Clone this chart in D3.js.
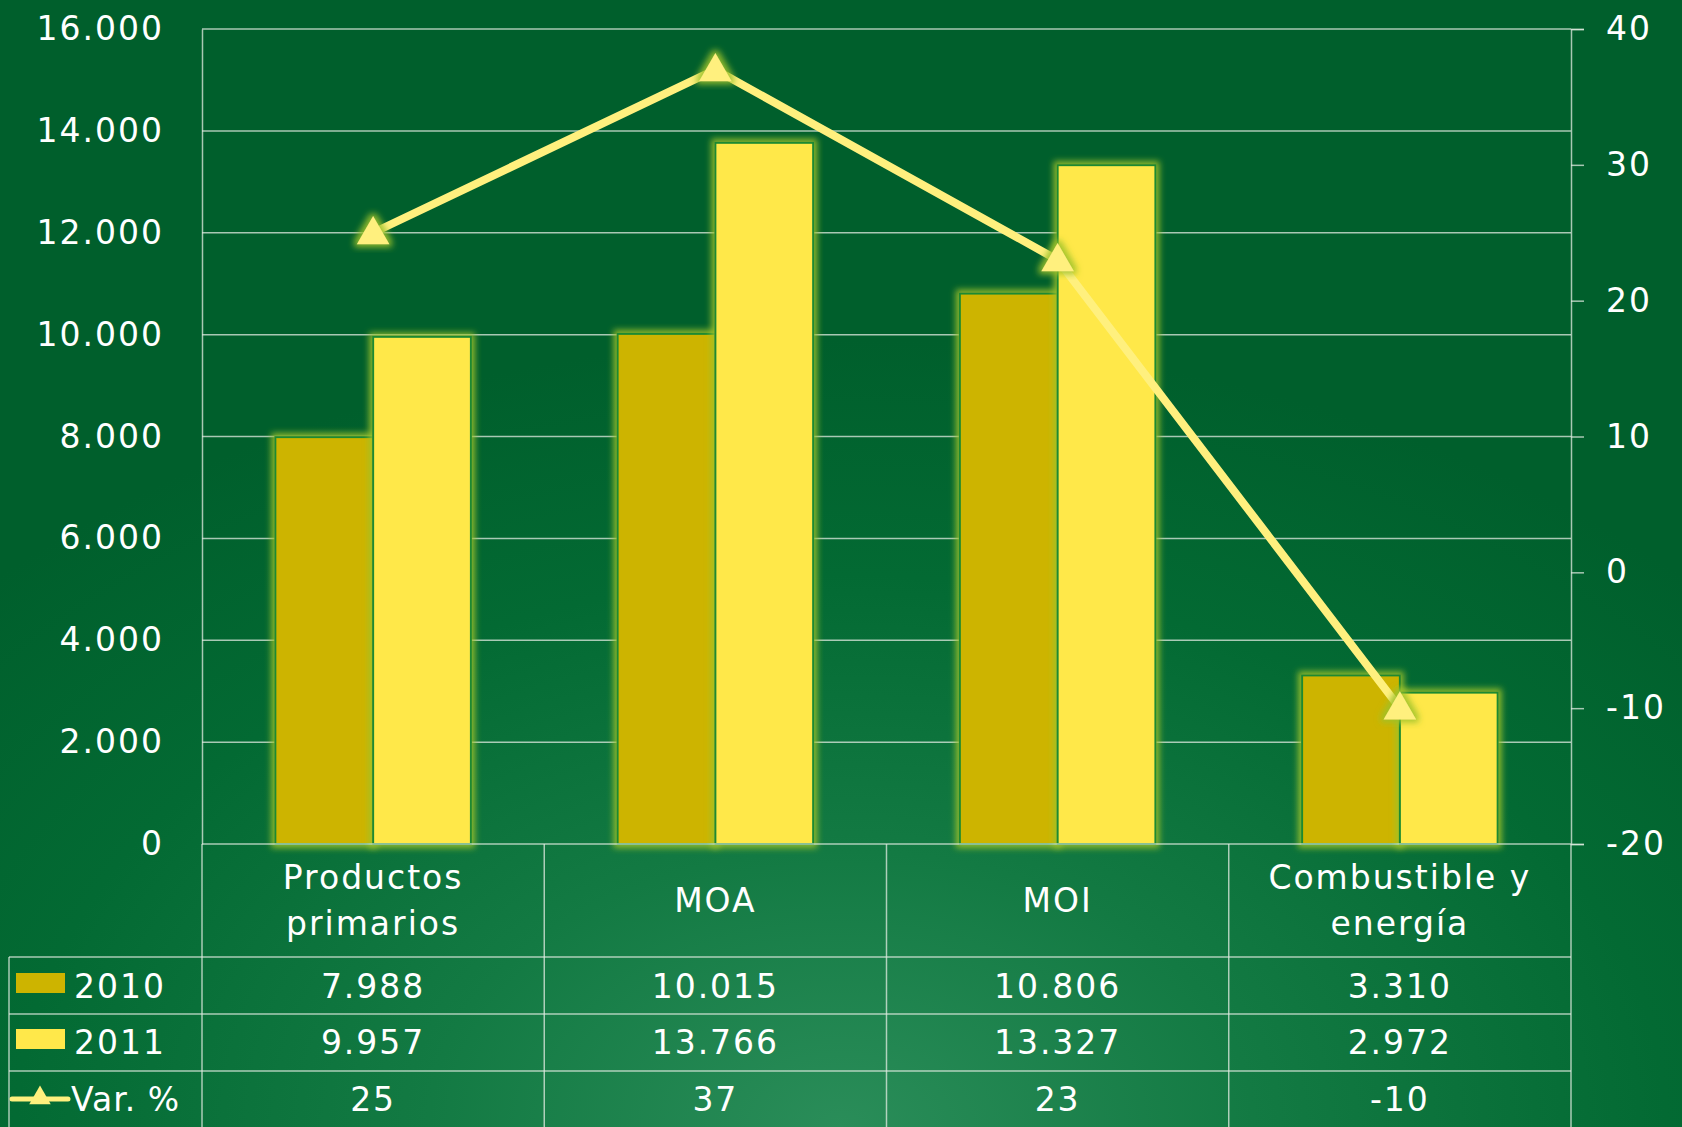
<!DOCTYPE html>
<html>
<head>
<meta charset="utf-8">
<script src="https://cdn.jsdelivr.net/npm/d3@7"></script>
<style>
  html, body { margin: 0; padding: 0; background: #005f2c; }
  svg { display: block; font-family: "DejaVu Sans", Verdana, sans-serif; }
  text { fill: #ffffff; }
</style>
</head>
<body>
<svg id="chart" width="1682" height="1127"></svg>
<script>
// data
const categories = [["Productos", "primarios"], ["MOA"], ["MOI"], ["Combustible y", "energía"]];
const years = ["2010", "2011"];
const values2010 = [7988, 10015, 10806, 3310];
const values2011 = [9957, 13766, 13327, 2972];
const varPct = [25, 37, 23, -10];
const leftTicks = [0, 2000, 4000, 6000, 8000, 10000, 12000, 14000, 16000];
const rightTicks = [-20, -10, 0, 10, 20, 30, 40];

const colors = { "2010": "#cdb400", "2011": "#ffe84a", line: "#fff07e" };

const W = 1682, H = 1127;
const plot = { left: 202, right: 1571, top: 29, bottom: 844 };
const tableLeft = 9;
const rowLines = [957, 1014, 1071];

const fmt = d3.formatLocale({ decimal: ",", thousands: ".", grouping: [3], currency: ["", ""] }).format(",d");

const svg = d3.select("#chart");
const defs = svg.append("defs");

// background: fairly even green, lighter toward the bottom centre
const bg = defs.append("radialGradient").attr("id", "bg")
  .attr("cx", 0.5).attr("cy", 1.0).attr("r", 0.7);
bg.append("stop").attr("offset", 0).attr("stop-color", "#2a8d59");
bg.append("stop").attr("offset", 0.35).attr("stop-color", "#137a43");
bg.append("stop").attr("offset", 0.7).attr("stop-color", "#036a33");
bg.append("stop").attr("offset", 1).attr("stop-color", "#005f2c");

// yellow-green glow for bars and markers
const glow = defs.append("filter").attr("id", "glow")
  .attr("x", "-30%").attr("y", "-30%").attr("width", "160%").attr("height", "160%");
glow.append("feMorphology").attr("in", "SourceAlpha").attr("operator", "dilate").attr("radius", 3).attr("result", "fat");
glow.append("feGaussianBlur").attr("in", "fat").attr("stdDeviation", 3).attr("result", "blur");
glow.append("feFlood").attr("flood-color", "#9cc22a").attr("flood-opacity", 0.9);
glow.append("feComposite").attr("in2", "blur").attr("operator", "in").attr("result", "halo");
const gm = glow.append("feMerge");
gm.append("feMergeNode").attr("in", "halo");
gm.append("feMergeNode").attr("in", "SourceGraphic");

svg.append("rect").attr("width", W).attr("height", H).attr("fill", "url(#bg)");

// scales
const x = d3.scaleBand().domain(d3.range(categories.length)).range([plot.left, plot.right]);
const xInner = d3.scaleBand().domain(years).range([0, x.bandwidth()]).paddingOuter(0.75);
const y = d3.scaleLinear().domain([0, 16000]).range([plot.bottom, plot.top]);
const y2 = d3.scaleLinear().domain([-20, 40]).range([plot.bottom, plot.top]);

const gridColor = "rgba(225,235,225,0.75)";

// gridlines
svg.append("g").selectAll("line").data(leftTicks.filter(d => d > 0)).join("line")
  .attr("x1", plot.left).attr("x2", plot.right)
  .attr("y1", d => y(d)).attr("y2", d => y(d))
  .attr("stroke", gridColor).attr("stroke-width", 1.5);

// left axis
const leftAxis = svg.append("g").attr("transform", `translate(${plot.left},0)`)
  .call(d3.axisLeft(y).tickValues(leftTicks).tickFormat(fmt).tickSize(0).tickPadding(38));
leftAxis.select(".domain").attr("stroke", gridColor).attr("stroke-width", 1.5);
leftAxis.selectAll("text").attr("font-size", 33).attr("letter-spacing", 2)
  .attr("fill", "#fff").attr("font-family", "DejaVu Sans, Verdana, sans-serif");

// right axis
const rightAxis = svg.append("g").attr("transform", `translate(${plot.right},0)`)
  .call(d3.axisRight(y2).tickValues(rightTicks).tickFormat(d => String(d)).tickSize(13).tickPadding(22));
rightAxis.select(".domain").attr("stroke", gridColor).attr("stroke-width", 1.5);
rightAxis.selectAll("line").attr("stroke", gridColor).attr("stroke-width", 1.5);
rightAxis.selectAll("text").attr("font-size", 33).attr("letter-spacing", 2)
  .attr("fill", "#fff").attr("font-family", "DejaVu Sans, Verdana, sans-serif");

// bars
const barData = [];
categories.forEach((c, i) => {
  barData.push({ i, year: "2010", v: values2010[i] });
  barData.push({ i, year: "2011", v: values2011[i] });
});
svg.append("g").selectAll("rect").data(barData).join("rect")
  .attr("x", d => x(d.i) + xInner(d.year))
  .attr("y", d => y(d.v))
  .attr("width", xInner.bandwidth())
  .attr("height", d => y(0) - y(d.v))
  .attr("fill", d => colors[d.year])
  .attr("stroke", "#1c8a30").attr("stroke-width", 2)
  .attr("filter", "url(#glow)");

// table lines
const table = svg.append("g").attr("stroke", gridColor).attr("stroke-width", 1.5);
table.append("line").attr("x1", plot.left).attr("x2", plot.right).attr("y1", plot.bottom).attr("y2", plot.bottom);
rowLines.forEach(ry => table.append("line")
  .attr("x1", tableLeft).attr("x2", plot.right).attr("y1", ry).attr("y2", ry));
d3.range(categories.length + 1).forEach(k => {
  const xx = k < categories.length ? x(k) : plot.right;
  table.append("line").attr("x1", xx).attr("x2", xx).attr("y1", plot.bottom).attr("y2", H);
});
table.append("line").attr("x1", tableLeft).attr("x2", tableLeft).attr("y1", rowLines[0]).attr("y2", H);

// category labels
const catG = svg.append("g").attr("font-size", 33).attr("letter-spacing", 2).attr("text-anchor", "middle");
categories.forEach((lines, i) => {
  const cx = x(i) + x.bandwidth() / 2;
  const base = lines.length === 1 ? 912 : 889;
  lines.forEach((t, j) => catG.append("text").attr("x", cx).attr("y", base + j * 46).text(t));
});

// table values
const rows = [
  { label: "2010", vals: values2010.map(fmt), base: 998 },
  { label: "2011", vals: values2011.map(fmt), base: 1054 },
  { label: "Var. %", vals: varPct.map(String), base: 1111 }
];
const valG = svg.append("g").attr("font-size", 33).attr("letter-spacing", 2);
rows.forEach(r => {
  r.vals.forEach((t, i) => valG.append("text").attr("text-anchor", "middle")
    .attr("x", x(i) + x.bandwidth() / 2).attr("y", r.base).text(t));
});

// legend keys in the first column
const triPath = d3.symbol().type(d3.symbolTriangle).size(460);
[0, 1].forEach(k => {
  svg.append("rect").attr("x", 16).attr("y", rows[k].base - 25).attr("width", 49).attr("height", 20)
    .attr("fill", colors[years[k]]);
  valG.append("text").attr("x", 74).attr("y", rows[k].base).text(rows[k].label);
});
svg.append("line").attr("x1", 12).attr("x2", 68).attr("y1", rows[2].base - 12).attr("y2", rows[2].base - 12)
  .attr("stroke", colors.line).attr("stroke-width", 5).attr("stroke-linecap", "round");
svg.append("path").attr("d", d3.symbol().type(d3.symbolTriangle).size(200))
  .attr("transform", `translate(40,${rows[2].base - 13})`).attr("fill", colors.line);
valG.append("text").attr("x", 71).attr("y", rows[2].base).attr("letter-spacing", 1).text(rows[2].label);

// Var. % line on right axis
const pts = varPct.map((v, i) => [x(i) + x.bandwidth() / 2, y2(v)]);
svg.append("path").datum(pts)
  .attr("d", d3.line())
  .attr("fill", "none").attr("stroke", colors.line).attr("stroke-width", 8)
  .attr("stroke-linejoin", "miter");
svg.append("g").selectAll("path").data(pts).join("path")
  .attr("d", triPath)
  .attr("transform", d => `translate(${d[0]},${d[1] + 2})`)
  .attr("fill", colors.line)
  .attr("filter", "url(#glow)");
</script>
</body>
</html>
